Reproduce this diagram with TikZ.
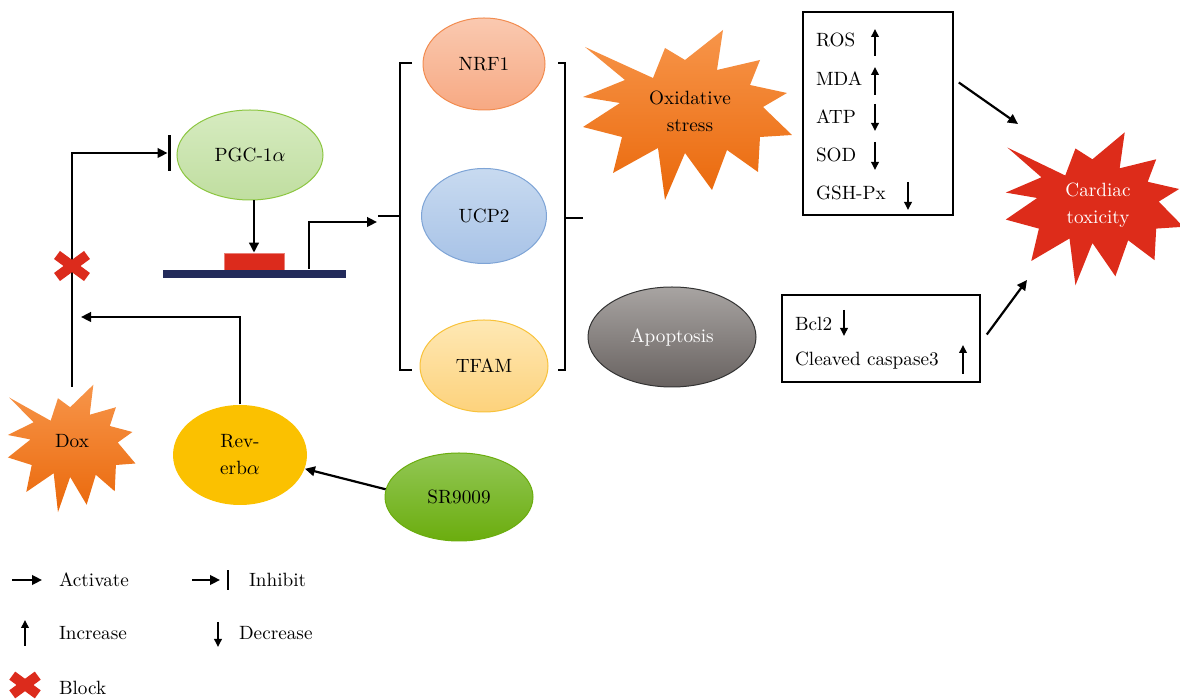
\documentclass[tikz,border=0pt]{standalone}
\usepackage{amsmath}
\usepackage{tikz}
\usetikzlibrary{shapes.geometric,arrows.meta,calc,positioning}

\definecolor{pgcTop}{HTML}{D6EBC0}
\definecolor{pgcBot}{HTML}{C0DEA0}
\definecolor{pgcLine}{HTML}{8CC641}
\definecolor{nrfTop}{HTML}{FAC9B0}
\definecolor{nrfBot}{HTML}{F7A983}
\definecolor{nrfLine}{HTML}{F28C50}
\definecolor{ucpTop}{HTML}{C8DAF0}
\definecolor{ucpBot}{HTML}{A8C3E7}
\definecolor{ucpLine}{HTML}{7EA4D6}
\definecolor{tfamTop}{HTML}{FEE8B4}
\definecolor{tfamBot}{HTML}{FDD27C}
\definecolor{tfamLine}{HTML}{F8C23A}
\definecolor{apoTop}{HTML}{A8A4A2}
\definecolor{apoBot}{HTML}{686260}
\definecolor{revFill}{HTML}{FBC100}
\definecolor{srTop}{HTML}{92C755}
\definecolor{srBot}{HTML}{6BAD0E}
\definecolor{burstTop}{HTML}{F7954A}
\definecolor{burstBot}{HTML}{EA680A}
\definecolor{cardRed}{HTML}{DD2C1A}
\definecolor{geneRed}{HTML}{DC2B1C}
\definecolor{dnaBlue}{HTML}{232B5B}

\tikzset{
  oval/.style={ellipse, inner sep=0pt, line width=0.5pt},
  act/.style={-{Triangle[length=5pt,width=4.8pt]}, line width=1.1pt},
  updown/.style={-{Triangle[length=4pt,width=3.8pt]}, line width=0.75pt},
  inhbar/.style={line width=1.6pt},
  item/.style={anchor=west, text height=1.6ex, text depth=0.25ex},
  brace/.style={line width=1pt},
  pics/burst/.style 2 args={code={
    \shade[top color=#1, bottom color=#2]
      (-103,-66) -- (-35,-35) -- (-23,-65) -- (-3,-53) -- (35,-83) -- (29,-43)
      -- (72,-53) -- (62,-28) -- (99,-20) -- (75,-6) -- (104,22) -- (72,24)
      -- (70,59) -- (39,37) -- (24,77) -- (-3,40) -- (-23,87) -- (-30,35)
      -- (-75,60) -- (-66,24) -- (-105,14) -- (-68,-10) -- (-105,-16) -- (-63,-33)
      -- cycle;
  }},
  pics/cross/.style={code={
    \draw[geneRed, line width=5pt] (-15,-11) -- (15,11) (-15,11) -- (15,-11);
  }}
}

\begin{document}
\begin{tikzpicture}[x=0.5pt, y=-0.5pt, font=\fontsize{9.6}{13.5}\selectfont]
\useasboundingbox (0,0) rectangle (1180,699);

% starbursts
\pic at (688,113) {burst={burstTop}{burstBot}};
\pic[xscale=0.61, yscale=0.75] at (72,447) {burst={burstTop}{burstBot}};
\pic[xscale=0.85, yscale=0.9] at (1095,207) {burst={cardRed}{cardRed}};
\node[align=center] (oxid) at (690,111) {Oxidative\\stress};
\node (dox) at (72,441) {Dox};
\node[align=center, text=white] (cardiac) at (1098,205) {Cardiac\\toxicity};

% ovals
\node[oval, draw=pgcLine, top color=pgcTop, bottom color=pgcBot,
  minimum width=73pt, minimum height=45pt] (pgc) at (250,155) {PGC-1$\alpha$};
\node[oval, draw=nrfLine, top color=nrfTop, bottom color=nrfBot,
  minimum width=61pt, minimum height=46pt] (nrf) at (484,64) {NRF1};
\node[oval, draw=ucpLine, top color=ucpTop, bottom color=ucpBot,
  minimum width=62.5pt, minimum height=47.5pt] (ucp) at (484,216) {UCP2};
\node[oval, draw=tfamLine, top color=tfamTop, bottom color=tfamBot,
  minimum width=64pt, minimum height=46pt] (tfam) at (484,366) {TFAM};
\node[oval, draw=black!80, top color=apoTop, bottom color=apoBot, text=white,
  minimum width=84pt, minimum height=50pt] (apo) at (672,337) {Apoptosis};
\node[oval, fill=revFill, align=center,
  minimum width=67pt, minimum height=50pt] (rev) at (240,455) {Rev-\\erb$\alpha$};
\node[oval, draw=srBot, top color=srTop, bottom color=srBot,
  minimum width=74pt, minimum height=44pt] (sr) at (459,497) {SR9009};

% promoter
\node[fill=geneRed, draw=geneRed!60!white, line width=0.4pt, inner sep=0pt,
  minimum width=30pt, minimum height=8.5pt] (gene) at (254,261.5) {};
\node[fill=dnaBlue, inner sep=0pt,
  minimum width=91.5pt, minimum height=4pt] (dna) at (254.5,274) {};

% brackets
\draw[brace] (412,63) -- (400,63) -- (400,370) -- (412,370);
\draw[brace] (400,216) -- (378,216);
\draw[brace] (558,63) -- (565,63) -- (565,370) -- (558,370);
\draw[brace] (565,218) -- (583,218);

% marker boxes
\node[draw, line width=0.8pt, minimum width=75pt, minimum height=101.5pt] (oxbox) at (878,113.5) {};
\node[item] (ros) at (809,41) {ROS};
\node[item] (mda) at (809,80) {MDA};
\node[item] (atp) at (809,118) {ATP};
\node[item] (sod) at (809,156) {SOD};
\node[item] (gsh) at (809,194) {GSH-Px};
\draw[updown] (875,56) -- (875,29);
\draw[updown] (875,95) -- (875,67);
\draw[updown] (875,104) -- (875,131);
\draw[updown] (875,142) -- (875,170);
\draw[updown] (908,182) -- (908,210);

\node[draw, line width=0.8pt, minimum width=99pt, minimum height=43.5pt] (apobox) at (881,338.5) {};
\node[item] (bcl) at (788,325) {Bcl2};
\node[item] (casp) at (788,360) {Cleaved caspase3};
\draw[updown] (844,310) -- (844,336);
\draw[updown] (963,374) -- (963,345);

% connectors
\coordinate (doxtop) at (72,387);
\coordinate (revtip) at (81,317);
\coordinate (promo) at (309,269);
\coordinate (bractip) at (377,222);
\draw[act] (doxtop) |- ([xshift=-4.5pt,yshift=1pt]pgc.west);
\draw[inhbar] ([xshift=-3.5pt,yshift=-8pt]pgc.west) -- ([xshift=-3.5pt,yshift=10pt]pgc.west);
\pic at (72,266) {cross};
\draw[act] (rev.north) |- (revtip);
\draw[act] (pgc.south -| gene.north) -- (gene.north);
\draw[act] (promo) |- (bractip);
\draw[act] (sr.174) -- (rev.-12);
\draw[act] ($(oxbox.east)+(5,-31)$) -- ($(cardiac)+(-80,-81)$);
\draw[act] ($(apobox.east)+(6,-4)$) -- ($(cardiac)+(-71,75)$);

% legend
\node[anchor=west] (lgact) at (52,580) {Activate};
\node[anchor=west] (lginh) at (242,580) {Inhibit};
\node[anchor=west] (lginc) at (52,633) {Increase};
\node[anchor=west] (lgdec) at (232,633) {Decrease};
\node[anchor=west] (lgblk) at (52,688) {Block};
\draw[act] ([xshift=-20pt]lgact.west) -- ([xshift=-5pt]lgact.west);
\draw[act] ([xshift=-25pt]lginh.west) -- ([xshift=-11pt]lginh.west);
\draw[line width=0.8pt] ([xshift=-7pt,yshift=-5pt]lginh.west) -- ([xshift=-7pt,yshift=5pt]lginh.west);
\draw[updown] (25,646) -- (25,620);
\draw[updown] (218,622) -- (218,647);
\pic[scale=0.85] at (25,685) {cross};
\end{tikzpicture}
\end{document}
